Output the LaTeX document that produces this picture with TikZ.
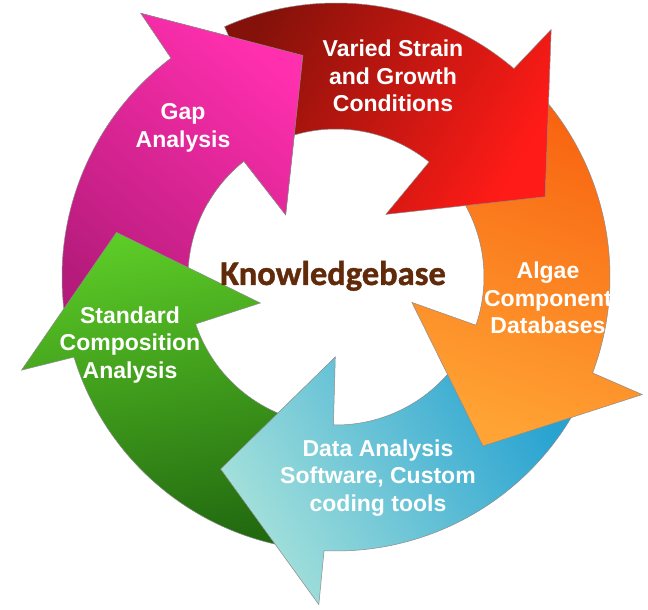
\documentclass[tikz,border=0pt]{standalone}
\usepackage{fontspec}
\usepackage{tikz}
\newfontfamily\lblfont{Liberation Sans}
\newfontfamily\kbfont{Carlito}[BoldFeatures={FakeBold=1.2}]
\definecolor{redA}{HTML}{85120A}
\definecolor{redB}{HTML}{FF1B17}
\definecolor{orgA}{HTML}{F8620F}
\definecolor{orgB}{HTML}{FFA334}
\definecolor{bluA}{HTML}{A5E1DB}
\definecolor{bluB}{HTML}{27A2D1}
\definecolor{grnA}{HTML}{5CCB27}
\definecolor{grnB}{HTML}{226A10}
\definecolor{magA}{HTML}{B51B7B}
\definecolor{magB}{HTML}{FF2FAE}
\definecolor{kbbrown}{HTML}{612A0B}
\newcommand\CycleArrow[1]{%
  (#1+116:274) arc[start angle=#1+116, end angle=#1+51.5, radius=274]
  -- (#1+51:328) -- (#1+23:224) -- (#1+53.5:80) -- (#1+53:148)
  arc[start angle=#1+53, end angle=#1+116, radius=148] -- cycle}

\begin{document}
\begin{tikzpicture}
    [
      x=1pt,
      y=1pt,
      arrowbody/.style={draw=black!45,line width=0.5pt},
      lbl/.style={text=white,align=center,font=\lblfont\bfseries\fontsize{23}{27.5}\selectfont},
      kb/.style={text=kbbrown,font=\kbfont\bfseries\fontsize{34.5}{40}\selectfont},
    ]
    \path[use as bounding box,fill=white] (-336,-333) rectangle (312,277);

    \shadedraw[arrowbody,top color=magB,bottom color=magA,shading angle=-40] \CycleArrow{75.5};
    \shadedraw[arrowbody,top color=grnA,bottom color=grnB,shading angle=10] \CycleArrow{-214.5};
    \shadedraw[arrowbody,top color=bluB,bottom color=bluA,shading angle=-60] \CycleArrow{-144};
    \shadedraw[arrowbody,top color=orgA,bottom color=orgB,shading angle=-20] \CycleArrow{-72};
    \shadedraw[arrowbody,top color=redA,bottom color=redB,shading angle=60] \CycleArrow{-2};

    \begin{scope}
      \clip (0,0) -- (90:400) arc[start angle=90, end angle=150, radius=400] -- cycle;
      \shadedraw[arrowbody,top color=magB,bottom color=magA,shading angle=-40] \CycleArrow{75.5};
    \end{scope}

    \node at (57,201)   [lbl] (varied) {Varied Strain\\and Growth\\Conditions};
    \node at (212,-21)  [lbl] (algae) {Algae\\Component\\Databases};
    \node at (42,-201)  [lbl] (data) {Data Analysis\\Software, Custom\\coding tools};
    \node at (-206,-68) [lbl] (standard) {Standard\\Composition\\Analysis};
    \node at (-153,149) [lbl] (gap) {Gap\\Analysis};
    \node at (-3,-8) [kb,anchor=base] (kbase) {Knowledgebase};
  \end{tikzpicture}
\end{document}
